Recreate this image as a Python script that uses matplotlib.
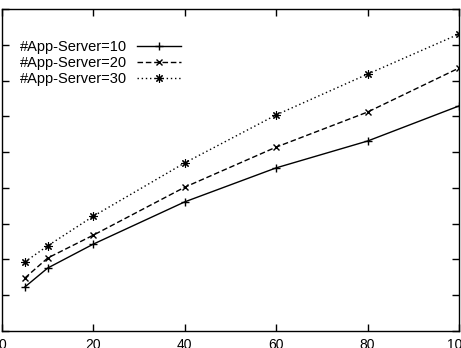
import matplotlib
matplotlib.use('Agg')
import matplotlib.pyplot as plt

# concurrency (x) vs. response value (y, arbitrary units; y labels cropped off)
x_vals = [5, 10, 20, 40, 60, 80, 100]
srv10 = [1.23, 1.76, 2.43, 3.61, 4.56, 5.31, 6.29]
srv20 = [1.48, 2.04, 2.68, 4.02, 5.14, 6.12, 7.35]
srv30 = [1.93, 2.38, 3.21, 4.70, 6.04, 7.18, 8.30]
labels = ['#App-Server=10', '#App-Server=20', '#App-Server=30']
x_ticks = [0, 20, 40, 60, 80, 100]

plt.rcParams['font.family'] = ['Liberation Sans', 'DejaVu Sans']

fig = plt.figure(figsize=(4.61, 3.48), dpi=100)
ax = fig.add_axes([2 / 461, 17 / 348, 457 / 461, 322 / 348])

ax.plot(x_vals, srv10, color='black', lw=1, ls='-', marker='+', ms=6, mew=1, label=labels[0])
ax.plot(x_vals, srv20, color='black', lw=1, ls=(0, (4, 2)), marker='x', ms=5, mew=1, label=labels[1])
ax.plot(x_vals, srv30, color='black', lw=1, ls=(0, (1, 2)), marker=(8, 2, 0), ms=6, mew=0.8, label=labels[2])

ax.set_xlim(0, 100)
ax.set_ylim(0, 9)
ax.set_xticks(x_ticks)
ax.set_xticklabels([str(v) for v in x_ticks], fontsize=10)
ax.set_yticks(range(10))
ax.set_yticklabels([])
ax.tick_params(direction='in', length=5, width=1, top=True, right=True, pad=5, colors='black')
for s in ax.spines.values():
    s.set_linewidth(1)

ax.legend(loc='upper left', bbox_to_anchor=(0.017, 0.935), frameon=False, fontsize=10.5,
          handlelength=3, handletextpad=0.7, labelspacing=0.12, markerfirst=False,
          borderaxespad=0.3)

plt.savefig('out.png', dpi=100)
